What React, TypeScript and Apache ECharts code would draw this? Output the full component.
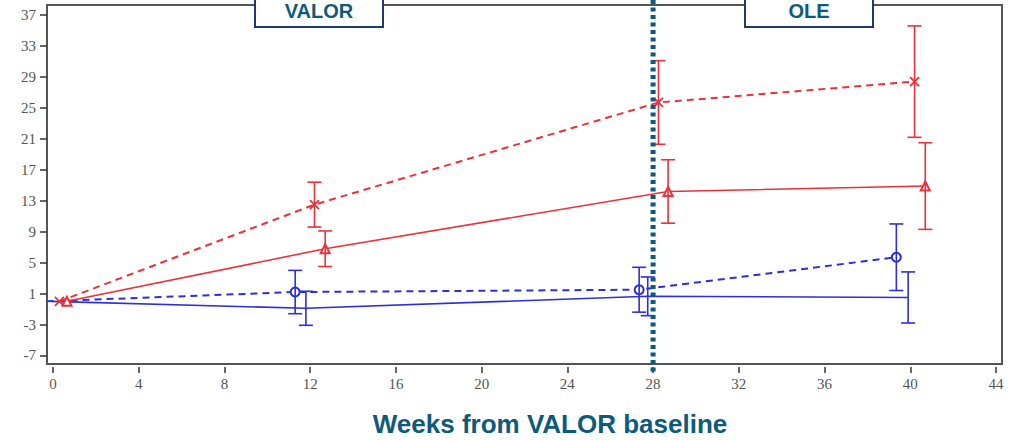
import React, { useEffect, useRef } from "react";
import * as echarts from "echarts";

// Tick labels
const xTicks = [0, 4, 8, 12, 16, 20, 24, 28, 32, 36, 40, 44];
const yTicks = [-7, -3, 1, 5, 9, 13, 17, 21, 25, 29, 33, 37];

// Red dashed (x markers)
const redDashedWeeks = [0.3, 12.2, 28.25, 40.2];
const redDashedVals = [0, 12.5, 25.7, 28.4];
const redDashedErr = [0, 2.9, 5.4, 7.2];

// Red solid (triangle markers)
const redSolidWeeks = [0.65, 12.7, 28.7, 40.7];
const redSolidVals = [0, 6.8, 14.2, 14.9];
const redSolidErr = [0, 2.3, 4.1, 5.6];

// Blue dashed (circle markers)
const blueDashedWeeks = [-0.3, 11.3, 27.35, 39.35];
const blueDashedVals = [0, 1.2, 1.5, 5.7];
const blueDashedErr = [0, 2.8, 2.9, 4.3];

// Blue solid (no marker)
const blueSolidWeeks = [-0.1, 11.8, 27.75, 39.9];
const blueSolidVals = [0, -0.9, 0.65, 0.5];
const blueSolidErr = [0, 2.2, 2.5, 3.3];

const RED = "#e8323c";
const BLUE = "#2f2fd8";
const TEAL = "#0d5a7c";
const NAVY = "#1f3a6e";
const SERIF = '"Liberation Serif", "DejaVu Serif", serif';
const SANS = '"Liberation Sans", Arial, sans-serif';

const X_PATH = "path://M0,0L10,10M10,0L0,10";

function zip(xs: number[], ys: number[]) {
  return xs.map((x, i) => [x, ys[i]]);
}
function zip3(xs: number[], ys: number[], es: number[]) {
  return xs.map((x, i) => [x, ys[i], es[i]]);
}

function errorSeries(xs: number[], ys: number[], es: number[], color: string) {
  return {
    type: "custom",
    data: zip3(xs, ys, es),
    z: 3,
    renderItem: (params: any, api: any) => {
      const x = api.value(0);
      const y = api.value(1);
      const e = api.value(2);
      if (!e) return { type: "group", children: [] };
      const top = api.coord([x, y + e]);
      const bot = api.coord([x, y - e]);
      const hw = 7;
      const st = { stroke: color, lineWidth: 1.6 };
      return {
        type: "group",
        children: [
          { type: "line", shape: { x1: top[0], y1: top[1], x2: bot[0], y2: bot[1] }, style: st },
          { type: "line", shape: { x1: top[0] - hw, y1: top[1], x2: top[0] + hw, y2: top[1] }, style: st },
          { type: "line", shape: { x1: bot[0] - hw, y1: bot[1], x2: bot[0] + hw, y2: bot[1] }, style: st },
        ],
      };
    },
  };
}

export default function App() {
  const ref = useRef<HTMLDivElement>(null);

  useEffect(() => {
    document.body.style.margin = "0";
    if (!ref.current) return;
    const chart = echarts.init(ref.current, null, { renderer: "svg" });
    const option: any = {
      animation: false,
      backgroundColor: "#ffffff",
      grid: {
        left: 47,
        top: 5,
        right: 8,
        bottom: 76,
        show: true,
        borderColor: "#555",
        borderWidth: 2,
        backgroundColor: "#fff",
      },
      xAxis: {
        type: "value",
        min: -0.28,
        max: 44.28,
        offset: 3,
        axisLine: { show: false, onZero: false },
        axisTick: {
          show: true,
          length: 6,
          customValues: xTicks,
          lineStyle: { color: "#333", width: 1.5 },
        },
        axisLabel: {
          customValues: xTicks,
          margin: 9,
          fontFamily: SERIF,
          fontSize: 15,
          color: "#555",
        },
        splitLine: { show: false },
      },
      yAxis: {
        type: "value",
        min: -8.1,
        max: 38.3,
        axisLine: { show: true, onZero: false, lineStyle: { color: "#555", width: 2 } },
        axisTick: {
          show: true,
          length: 7,
          customValues: yTicks,
          lineStyle: { color: "#333", width: 1.5 },
        },
        axisLabel: {
          customValues: yTicks,
          margin: 11,
          fontFamily: SERIF,
          fontSize: 15,
          color: "#555",
        },
        splitLine: { show: false },
      },
      series: [
        {
          type: "line",
          data: zip(blueSolidWeeks, blueSolidVals),
          symbol: "none",
          lineStyle: { color: BLUE, width: 1.6 },
          z: 2,
        },
        {
          type: "line",
          data: zip(blueDashedWeeks, blueDashedVals),
          symbol: "emptyCircle",
          symbolSize: 9,
          itemStyle: { color: BLUE, borderColor: BLUE, borderWidth: 1.6 },
          lineStyle: { color: BLUE, width: 2, type: [7, 5] },
          z: 2,
        },
        {
          type: "line",
          data: zip(redSolidWeeks, redSolidVals),
          symbol: "emptyTriangle",
          symbolSize: 9,
          itemStyle: { color: RED, borderColor: RED, borderWidth: 1.6 },
          lineStyle: { color: RED, width: 1.6 },
          z: 2,
        },
        {
          type: "line",
          data: zip(redDashedWeeks, redDashedVals),
          symbol: X_PATH,
          symbolSize: 9,
          itemStyle: { color: "transparent", borderColor: RED, borderWidth: 1.8 },
          lineStyle: { color: RED, width: 2, type: [7, 5] },
          z: 2,
        },
        errorSeries(blueSolidWeeks, blueSolidVals, blueSolidErr, BLUE),
        errorSeries(blueDashedWeeks, blueDashedVals, blueDashedErr, BLUE),
        errorSeries(redSolidWeeks, redSolidVals, redSolidErr, RED),
        errorSeries(redDashedWeeks, redDashedVals, redDashedErr, RED),
      ],
    };
    chart.setOption(option);

    const px28 = chart.convertToPixel({ xAxisIndex: 0 }, 28) as number;
    chart.setOption({
      graphic: [
        {
          type: "line",
          z: 100,
          shape: { x1: px28, y1: 0, x2: px28, y2: 372 },
          style: { stroke: TEAL, lineWidth: 5, lineDash: [4, 3.5] },
        },
        {
          type: "rect",
          z: 100,
          shape: { x: 255, y: -10, width: 128, height: 37 },
          style: { fill: "#fff", stroke: NAVY, lineWidth: 2 },
        },
        {
          type: "text",
          z: 101,
          x: 319,
          y: 11,
          style: {
            text: "VALOR",
            fontFamily: SANS,
            fontWeight: "bold",
            fontSize: 20,
            fill: TEAL,
            align: "center",
            verticalAlign: "middle",
          },
        },
        {
          type: "rect",
          z: 100,
          shape: { x: 745, y: -10, width: 128, height: 37 },
          style: { fill: "#fff", stroke: NAVY, lineWidth: 2 },
        },
        {
          type: "text",
          z: 101,
          x: 809,
          y: 11,
          style: {
            text: "OLE",
            fontFamily: SANS,
            fontWeight: "bold",
            fontSize: 20,
            fill: TEAL,
            align: "center",
            verticalAlign: "middle",
          },
        },
        {
          type: "text",
          z: 101,
          x: 550,
          y: 424,
          style: {
            text: "Weeks from VALOR baseline",
            fontFamily: SANS,
            fontWeight: "bold",
            fontSize: 26,
            fill: TEAL,
            align: "center",
            verticalAlign: "middle",
          },
        },
      ],
    });

    return () => chart.dispose();
  }, []);

  return <div ref={ref} style={{ width: 1010, height: 440 }} />;
}
